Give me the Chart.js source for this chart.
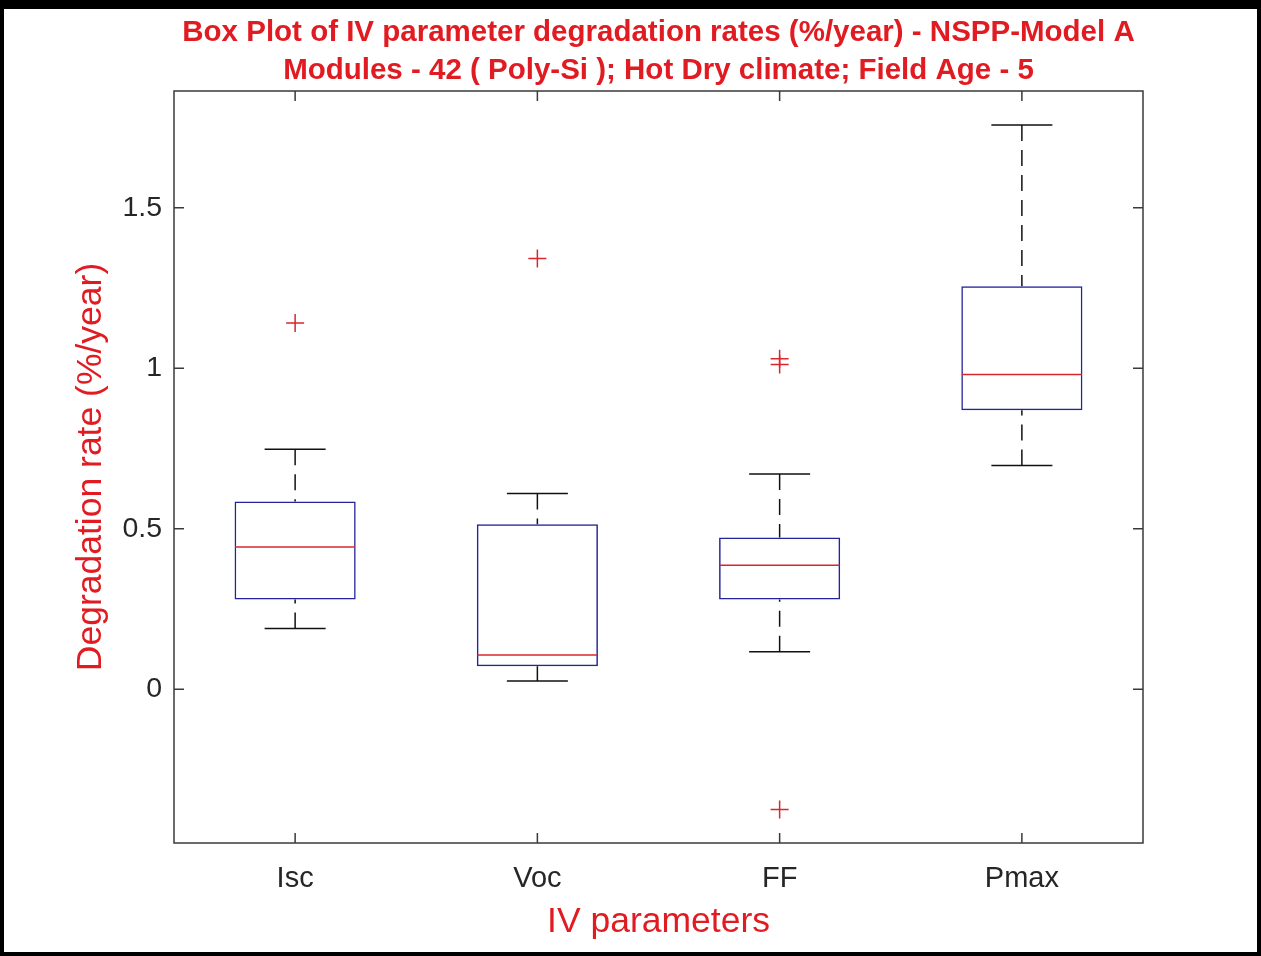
<!DOCTYPE html>
<html><head><meta charset="utf-8">
<script src="https://cdn.jsdelivr.net/npm/chart.js@4.4.1/dist/chart.umd.min.js"></script>
<style>html,body{margin:0;padding:0;background:#fff;} canvas{display:block;}</style>
</head><body>
<canvas id="c" width="1261" height="956"></canvas>
<script>
const categories = ['Isc', 'Voc', 'FF', 'Pmax'];
const q1 = [0.280, 0.072, 0.280, 0.869];
const q3 = [0.585, 0.514, 0.473, 1.256];
const medians = [0.443, 0.107, 0.386, 0.981];
const whiskerLow = [0.189, 0.026, 0.117, 0.697];
const whiskerHigh = [0.748, 0.610, 0.671, 1.758];
const outliers = [[1.141], [1.342], [1.030, 1.012, -0.375], []];
const yTickValues = [0, 0.5, 1, 1.5];
const yTickLabels = ['0', '0.5', '1', '1.5'];
const yMin = -0.479, yMax = 1.864;
const titleLines = ['Box Plot of IV parameter degradation rates (%/year) - NSPP-Model A',
                    'Modules - 42 ( Poly-Si ); Hot Dry climate; Field Age - 5'];
const xTitle = 'IV parameters';
const yTitle = 'Degradation rate (%/year)';

const FONT = "'Liberation Sans', Arial, sans-serif";
const RED = '#e11b22';
const BLUE = '#23239a';
const MED = '#d8262c';
const WHISK = '#111111';

const datasets = [];
// boxes
datasets.push({
  type: 'bar', label: 'box',
  data: categories.map((c, i) => [q1[i], q3[i]]),
  backgroundColor: 'rgba(0,0,0,0)', borderColor: BLUE, borderWidth: 1.5,
  borderSkipped: false, barPercentage: 0.5, categoryPercentage: 1.0, order: 5
});
// whisker stems
categories.forEach((c, i) => {
  datasets.push({
    type: 'line', label: 'upper-' + c,
    data: [{x: c, y: whiskerHigh[i]}, {x: c, y: q3[i]}],
    borderColor: WHISK, borderWidth: 1.5, borderDash: [16, 9], pointRadius: 0, fill: false, order: 4
  });
  datasets.push({
    type: 'line', label: 'lower-' + c,
    data: [{x: c, y: whiskerLow[i]}, {x: c, y: q1[i]}],
    borderColor: WHISK, borderWidth: 1.5, borderDash: [16, 9], pointRadius: 0, fill: false, order: 4
  });
});
// whisker caps
datasets.push({
  type: 'line', label: 'caps', showLine: false,
  data: categories.flatMap((c, i) => [{x: c, y: whiskerLow[i]}, {x: c, y: whiskerHigh[i]}]),
  pointStyle: 'line', pointRadius: 30.5, pointBorderColor: WHISK, pointBorderWidth: 1.5,
  pointBackgroundColor: WHISK, order: 3
});
// medians
datasets.push({
  type: 'line', label: 'median', showLine: false,
  data: categories.map((c, i) => ({x: c, y: medians[i]})),
  pointStyle: 'line', pointRadius: 60, pointBorderColor: MED, pointBorderWidth: 1.5,
  pointBackgroundColor: MED, order: 2
});
// outliers
datasets.push({
  type: 'line', label: 'outliers', showLine: false,
  data: categories.flatMap((c, i) => outliers[i].map(v => ({x: c, y: v}))),
  pointStyle: 'cross', pointRadius: 9, pointBorderColor: MED, pointBorderWidth: 1.5, order: 1
});

const framePlugin = {
  id: 'frame',
  afterDatasetsDraw(chart) {
    const {ctx, chartArea: a, scales: {x, y}} = chart;
    ctx.save();
    ctx.strokeStyle = '#3a3a3a';
    ctx.lineWidth = 1.5;
    ctx.strokeRect(a.left, a.top, a.right - a.left, a.bottom - a.top);
    ctx.beginPath();
    yTickValues.forEach(v => {
      const py = y.getPixelForValue(v);
      ctx.moveTo(a.left, py); ctx.lineTo(a.left + 10, py);
      ctx.moveTo(a.right, py); ctx.lineTo(a.right - 10, py);
    });
    categories.forEach((c, i) => {
      const px = x.getPixelForTick(i);
      ctx.moveTo(px, a.top); ctx.lineTo(px, a.top + 10);
      ctx.moveTo(px, a.bottom); ctx.lineTo(px, a.bottom - 10);
    });
    ctx.stroke();
    ctx.restore();
  },
  afterDraw(chart) {
    const {ctx, width, height} = chart;
    ctx.save();
    ctx.fillStyle = '#000';
    ctx.fillRect(0, 0, width, 9);
    ctx.fillRect(0, 0, 4, height);
    ctx.fillRect(width - 4, 0, 4, height);
    ctx.fillRect(0, height - 4, width, 4);
    ctx.restore();
  }
};

new Chart(document.getElementById('c'), {
  type: 'bar',
  data: {labels: categories, datasets},
  options: {
    responsive: false, animation: false,
    layout: {padding: {left: 0, top: 0, right: 118, bottom: 0}},
    plugins: {
      legend: {display: false},
      tooltip: {enabled: false},
      title: {
        display: true, fullSize: false, text: titleLines, color: RED,
        font: {family: FONT, size: 29.5, weight: 'bold', lineHeight: 38 / 29.5},
        padding: {top: 14, bottom: 1}
      }
    },
    scales: {
      x: {
        type: 'category', offset: true,
        grid: {display: false, drawTicks: false}, border: {display: false},
        ticks: {color: '#262626', font: {family: FONT, size: 29}, padding: 19},
        title: {display: true, text: xTitle, color: RED, font: {family: FONT, size: 35.5}, padding: {top: 0, bottom: 12}},
        afterFit(s) { s.height = 113; }
      },
      y: {
        type: 'linear', min: yMin, max: yMax,
        grid: {display: false, drawTicks: false}, border: {display: false},
        afterBuildTicks(s) { s.ticks = yTickValues.map(v => ({value: v})); },
        ticks: {
          color: '#262626', font: {family: FONT, size: 28.5}, padding: 12,
          callback: (v) => yTickLabels[yTickValues.indexOf(v)]
        },
        title: {display: true, text: yTitle, color: RED, font: {family: FONT, size: 35.5}, padding: {top: 70, bottom: 0}},
        afterFit(s) { s.width = 174; }
      }
    }
  },
  plugins: [framePlugin]
});
</script>
</body></html>
